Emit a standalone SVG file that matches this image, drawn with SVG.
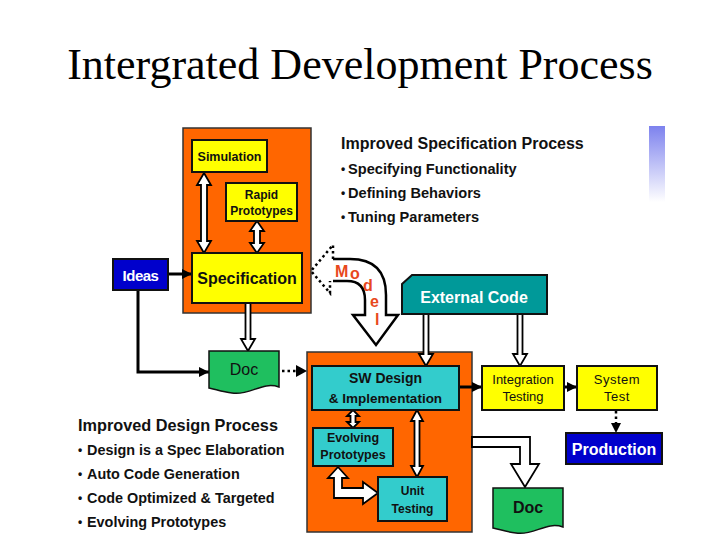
<svg xmlns="http://www.w3.org/2000/svg" width="720" height="540" viewBox="0 0 720 540">
<defs>
<linearGradient id="bar" x1="0" y1="0" x2="0" y2="1">
<stop offset="0" stop-color="#7d82ee"/>
<stop offset="1" stop-color="#ffffff"/>
</linearGradient>
<marker id="ah" viewBox="0 0 10 10" refX="10" refY="5" markerWidth="10" markerHeight="10" markerUnits="userSpaceOnUse" orient="auto">
<path d="M0,0 L10,5 L0,10 Z" fill="#000"/>
</marker>
</defs>
<style>
.t{font-family:"Liberation Sans",Arial,sans-serif;fill:#111}
.b{font-weight:bold}
.box{stroke:#111;stroke-width:2}
.org{fill:#ff6600;stroke:#333;stroke-width:1.5}
.yel{fill:#ffff00}
.teal{fill:#33cccc}
.blue{fill:#0000cc}
.grn{fill:#1fbf5f}
.hol{fill:#fff;stroke:#000;stroke-width:1.8;stroke-linejoin:miter}
.ln{fill:none;stroke:#000;stroke-width:3}
.dot{fill:none;stroke:#000;stroke-width:2.5;stroke-dasharray:2.5 3}
.m{font-family:"Liberation Sans",Arial,sans-serif;font-weight:bold;fill:#e8481c;font-size:16px}
</style>
<rect width="720" height="540" fill="#fff"/>
<text x="360" y="79" font-family="Liberation Serif, Times New Roman, serif" font-size="44" text-anchor="middle" fill="#000">Intergrated Development Process</text>
<rect x="649" y="126" width="16" height="76" fill="url(#bar)"/>

<g id="orange-spec"><rect class="org" x="183" y="128" width="128" height="185"/></g>
<g id="orange-sw"><rect class="org" x="307" y="352" width="165" height="180"/></g>

<g id="connectors">
<polygon class="hol" points="204,173 211,185 207,185 207,241 211,241 204,253 197,241 201,241 201,185 197,185"/>
<polygon class="hol" points="257,221 264,231 260,231 260,243 264,243 257,253 250,243 254,243 254,231 250,231"/>
<line class="ln" x1="168" y1="274" x2="192" y2="274" marker-end="url(#ah)" stroke-width="3"/>
<path class="ln" d="M138,290 V372 H209" marker-end="url(#ah)"/>
<polygon class="hol" points="245.5,303 250.5,303 250.5,339 255,339 248,351 241,339 245.5,339"/>
<path class="dot" d="M282,371 H297"/>
<polygon points="296,365 307,371 296,377" fill="#000"/>
<polygon class="hol" points="423.5,314 428.5,314 428.5,354 433,354 426,366 419,354 423.5,354"/>
<polygon class="hol" points="517.5,314 522.5,314 522.5,354 527,354 520,366 513,354 517.5,354"/>
<polygon class="hol" points="353,410 359,416 355.5,416 355.5,422 359,422 353,428 347,422 350.5,422 350.5,416 347,416" stroke-width="2"/>
<polygon class="hol" points="417,410 423,421 419.5,421 419.5,466 423,466 417,477 411,466 414.5,466 414.5,421 411,421"/>
<polygon class="hol" points="338,467 348,478 342,478 342,488 363,488 363,482 378,493 363,504 363,498 334,498 334,478 328,478"/>
<line class="ln" x1="459" y1="387" x2="482" y2="387" marker-end="url(#ah)" stroke-width="2.5"/>
<line class="ln" x1="564" y1="387" x2="577" y2="387" marker-end="url(#ah)" stroke-width="2.5"/>
<path class="dot" d="M616,411 V424" stroke-width="2"/>
<polygon points="611,423 616,433 621,423" fill="#000"/>
<polygon class="hol" points="472,437 530,437 530,464 539,464 525,487 511,464 520,464 520,447 472,447" stroke-width="2.5"/>
<path d="M333,259 L350,259 Q386,259 386,295 L386,315 L398,315 L376,345 L353,315 L365,315 L365,300 Q365,281 347,281 L333,281 Z" fill="#fff"/>
<path d="M333,259 L350,259 Q386,259 386,295 L386,315 L398,315 L376,345 L353,315 L365,315 L365,300 Q365,281 347,281 L333,281" fill="none" stroke="#000" stroke-width="2.5"/>
<path class="dot" d="M333,259 V245 L311,271 L330,293 V281" stroke-width="2.2"/>
<text class="m" x="335" y="277">M</text>
<text class="m" x="350" y="279" font-size="14">o</text>
<text class="m" x="363" y="291">d</text>
<text class="m" x="370" y="307">e</text>
<text class="m" x="375" y="325">l</text>
</g>

<g id="simulation"><rect class="box yel" x="192" y="140" width="75" height="32"/><text class="t b" x="229.5" y="161" font-size="12.5" text-anchor="middle">Simulation</text></g>
<g id="rapid"><rect class="box yel" x="226" y="183" width="71" height="38"/><text class="t b" x="261.5" y="199" font-size="12" text-anchor="middle">Rapid</text><text class="t b" x="261.5" y="215" font-size="12" text-anchor="middle">Prototypes</text></g>
<g id="specification"><rect class="box yel" x="192" y="253" width="110" height="50"/><text class="t b" x="247" y="284" font-size="16" text-anchor="middle">Specification</text></g>
<g id="ideas"><rect class="box blue" x="113" y="259" width="55" height="31"/><text class="t b" x="140.5" y="281" font-size="15" text-anchor="middle" fill="#fff" style="fill:#fff" letter-spacing="-0.5">Ideas</text></g>
<g id="doc1"><path class="grn" d="M209,351 H279 V387 C262,381 250,396 232,393 C222,392 215,389 209,388 Z" stroke="#111" stroke-width="1.5"/><text class="t" x="244" y="375" font-size="16" text-anchor="middle">Doc</text></g>
<g id="external"><polygon points="402,284 412,275 547,275 547,314 402,314" fill="#009999" stroke="#111" stroke-width="2"/><text class="t b" x="474" y="303" font-size="16" text-anchor="middle" style="fill:#fff">External Code</text></g>
<g id="swdesign"><rect class="box teal" x="312" y="366" width="147" height="44"/><text class="t b" x="385.5" y="383" font-size="14" text-anchor="middle">SW Design</text><text class="t b" x="385.5" y="403" font-size="13.5" text-anchor="middle">&amp; Implementation</text></g>
<g id="evolving"><rect class="box teal" x="313" y="428" width="80" height="38"/><text class="t b" x="353" y="442" font-size="12.5" text-anchor="middle">Evolving</text><text class="t b" x="353" y="459" font-size="12.5" text-anchor="middle">Prototypes</text></g>
<g id="unit"><rect class="box teal" x="378" y="477" width="69" height="44"/><text class="t b" x="412.5" y="495" font-size="12" text-anchor="middle">Unit</text><text class="t b" x="412.5" y="513" font-size="12" text-anchor="middle">Testing</text></g>
<g id="integration"><rect class="box yel" x="482" y="366" width="82" height="44"/><text class="t" x="523" y="384" font-size="13" text-anchor="middle">Integration</text><text class="t" x="523" y="401" font-size="13" text-anchor="middle">Testing</text></g>
<g id="system"><rect class="box yel" x="577" y="366" width="80" height="44"/><text class="t" x="617" y="384" font-size="13" text-anchor="middle" letter-spacing="0.5">System</text><text class="t" x="617" y="401" font-size="13" text-anchor="middle" letter-spacing="0.5">Test</text></g>
<g id="production"><rect class="box blue" x="566" y="433" width="96" height="31"/><text class="t b" x="614" y="455" font-size="16" text-anchor="middle" style="fill:#fff">Production</text></g>
<g id="doc2"><path class="grn" d="M493,488 H563 V527 C546,521 534,536 516,533 C506,532 499,529 493,528 Z" stroke="#111" stroke-width="1.5"/><text class="t b" x="528" y="513" font-size="16" text-anchor="middle">Doc</text></g>

<g id="spec-notes">
<text class="t b" x="341" y="149" font-size="16">Improved Specification Process</text>
<text class="t b" x="341" y="173" font-size="12">•</text><text class="t b" x="348" y="174" font-size="14.6">Specifying Functionality</text>
<text class="t b" x="341" y="197" font-size="12">•</text><text class="t b" x="348" y="198" font-size="14.6">Defining Behaviors</text>
<text class="t b" x="341" y="221" font-size="12">•</text><text class="t b" x="348" y="222" font-size="14.6">Tuning Parameters</text>
</g>
<g id="design-notes">
<text class="t b" x="78" y="431" font-size="16.3">Improved Design Process</text>
<text class="t b" x="78" y="454" font-size="12">•</text><text class="t b" x="87" y="455" font-size="14.4">Design is a Spec Elaboration</text>
<text class="t b" x="78" y="478" font-size="12">•</text><text class="t b" x="87" y="479" font-size="14.4">Auto Code Generation</text>
<text class="t b" x="78" y="502" font-size="12">•</text><text class="t b" x="87" y="503" font-size="14.4">Code Optimized &amp; Targeted</text>
<text class="t b" x="78" y="526" font-size="12">•</text><text class="t b" x="87" y="527" font-size="14.4">Evolving Prototypes</text>
</g>
</svg>
